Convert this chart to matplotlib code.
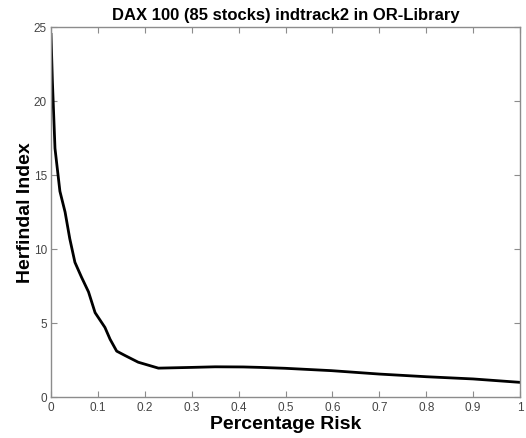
import numpy as np
import matplotlib
matplotlib.use("Agg")
import matplotlib.pyplot as plt

plt.rcParams['font.family'] = ['Liberation Sans', 'DejaVu Sans']

# Percentage risk vs Herfindal index
risk = [0.0, 0.003, 0.0085, 0.019, 0.030, 0.040, 0.051, 0.065, 0.080, 0.094,
        0.115, 0.126, 0.140, 0.158, 0.186, 0.229, 0.30, 0.35, 0.41, 0.446,
        0.499, 0.598, 0.70, 0.80, 0.90, 1.0]
herf = [24.5, 21.3, 16.8, 13.9, 12.5, 10.7, 9.1, 8.1, 7.1, 5.7,
        4.7, 3.9, 3.1, 2.8, 2.35, 1.95, 2.0, 2.04, 2.03, 2.0,
        1.94, 1.78, 1.55, 1.37, 1.22, 0.99]

xticks = [0, 0.1, 0.2, 0.3, 0.4, 0.5, 0.6, 0.7, 0.8, 0.9, 1]
xticklabels = ['0', '0.1', '0.2', '0.3', '0.4', '0.5', '0.6', '0.7', '0.8', '0.9', '1']
yticks = [0, 5, 10, 15, 20, 25]

fig = plt.figure(figsize=(5.26, 4.39), dpi=100)
ax = fig.add_axes([51/526, 1 - 398/439, 469/526, 370/439])

ax.plot(risk, herf, color='black', linewidth=2.0)

ax.set_xlim(0, 1)
ax.set_ylim(0, 25)
ax.set_xticks(xticks)
ax.set_xticklabels(xticklabels)
ax.set_yticks(yticks)

grey = '#8c8c8c'
for s in ax.spines.values():
    s.set_color(grey)
    s.set_linewidth(1.0)
ax.tick_params(direction='in', top=True, right=True, colors=grey,
               labelcolor='#444444', labelsize=8.5, length=4, pad=3)

ax.set_title('DAX 100 (85 stocks) indtrack2 in OR-Library',
             fontsize=12, fontweight='bold', pad=6)
ax.set_xlabel('Percentage Risk', fontsize=14, fontweight='bold', labelpad=1)
ax.set_ylabel('Herfindal Index', fontsize=14, fontweight='bold', labelpad=0)

fig.savefig('out.png', dpi=100)
